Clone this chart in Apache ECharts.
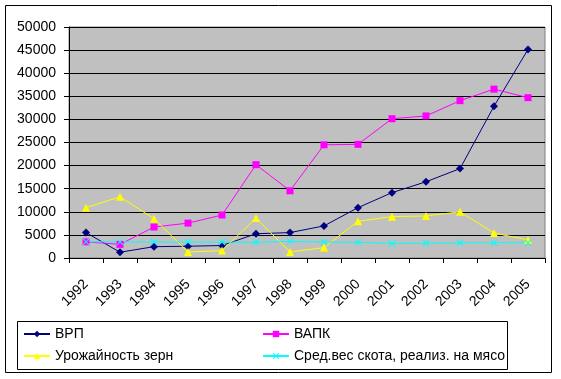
<!DOCTYPE html>
<html>
<head>
<meta charset="utf-8">
<script src="https://cdn.jsdelivr.net/npm/echarts@6/dist/echarts.min.js"></script>
<style>html,body{margin:0;padding:0;background:#fff}#c{width:561px;height:379px}</style>
</head>
<body>
<div id="c"></div>
<script>
var years = ['1992','1993','1994','1995','1996','1997','1998','1999','2000','2001','2002','2003','2004','2005'];
var vrp = [5500, 1250, 2450, 2550, 2700, 5250, 5500, 6950, 10900, 14150, 16500, 19350, 32850, 45150];
var vapk = [3500, 2950, 6700, 7550, 9300, 20200, 14550, 24500, 24600, 30150, 30750, 34050, 36550, 34700];
var grain = [10900, 13250, 8500, 1300, 1600, 8650, 1300, 2250, 7950, 8950, 9100, 10000, 5400, 3900];
var cattle = [3500, 3500, 3450, 3450, 3450, 3400, 3600, 3450, 3400, 3150, 3200, 3300, 3300, 3300];
var yTicks = {min: 0, max: 50000, interval: 5000};
var names = ['ВРП', 'ВАПК', 'Урожайность зерн', 'Сред.вес скота, реализ. на мясо'];

var FONT = 'Arial, "Liberation Sans", sans-serif';
var chart = echarts.init(document.getElementById('c'), null, {renderer: 'canvas'});
var xSym = 'path://M0,1L1,0L5,4L9,0L10,1L6,5L10,9L9,10L5,6L1,10L0,9L4,5Z';

function mk(name, data, color, symbol, size) {
  return {
    name: name, type: 'line', data: data, symbol: symbol, symbolSize: size,
    showAllSymbol: true, animation: false,
    lineStyle: {color: color, width: 1},
    itemStyle: {color: color},
    emphasis: {disabled: true}
  };
}

var legendCommon = {orient: 'vertical', top: 327, itemWidth: 26, itemHeight: 8, itemGap: 8,
  textStyle: {fontSize: 14, color: '#000', fontFamily: FONT}, selectedMode: false, padding: 0};

chart.setOption({
  animation: false,
  textStyle: {fontFamily: FONT},
  grid: {left: 69, right: 16, top: 27, bottom: 121, show: true, backgroundColor: '#C0C0C0', borderColor: '#808080', borderWidth: 1},
  xAxis: {
    type: 'category', data: years, boundaryGap: true,
    axisLine: {lineStyle: {color: '#000', width: 1}},
    axisTick: {show: true, length: 5, lineStyle: {color: '#000'}},
    axisLabel: {rotate: 45, margin: 24, color: '#000', fontSize: 14, fontFamily: FONT, interval: 0}
  },
  yAxis: {
    type: 'value', min: yTicks.min, max: yTicks.max, interval: yTicks.interval,
    axisLine: {show: true, lineStyle: {color: '#000', width: 1}},
    axisTick: {show: true, length: 5, lineStyle: {color: '#000'}},
    axisLabel: {margin: 13, color: '#000', fontSize: 14, fontFamily: FONT, formatter: function (v) { return String(v); }},
    splitLine: {show: true, lineStyle: {color: '#000', width: 1}}
  },
  legend: [
    Object.assign({data: [names[0], names[2]], left: 23}, legendCommon),
    Object.assign({data: [names[1], names[3]], left: 262}, legendCommon)
  ],
  graphic: [
    {type: 'rect', shape: {x: 5.5, y: 5.5, width: 546, height: 367}, style: {fill: null, stroke: '#000', lineWidth: 1}, silent: true, z: -1},
    {type: 'rect', shape: {x: 17.5, y: 321.5, width: 490, height: 48}, style: {fill: null, stroke: '#000', lineWidth: 1}, silent: true}
  ],
  series: [
    mk(names[0], vrp, '#000080', 'diamond', 8),
    mk(names[1], vapk, '#FF00FF', 'rect', 7),
    mk(names[2], grain, '#FFFF00', 'triangle', 8),
    mk(names[3], cattle, '#00FFFF', xSym, 7)
  ]
});
</script>
</body>
</html>
